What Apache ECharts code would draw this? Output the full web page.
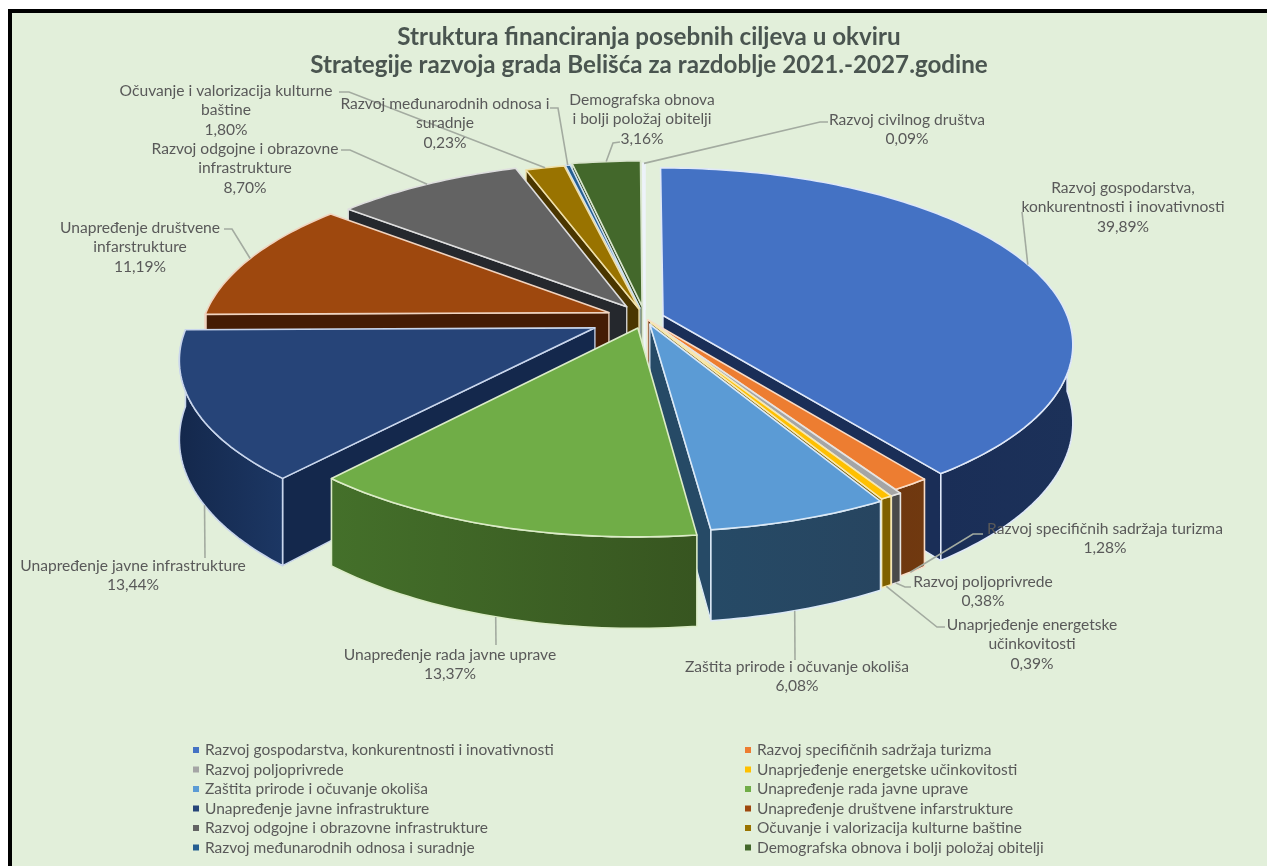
<!DOCTYPE html>
<html><head><meta charset="utf-8">
<style>html,body{margin:0;padding:0;background:#fff}#chart{width:1267px;height:866px}</style>
<script src="https://cdn.jsdelivr.net/npm/echarts@6/dist/echarts.min.js"></script>
</head><body><div id="chart"></div>
<script>
// ---- data
const categories = [
  'Razvoj gospodarstva, konkurentnosti i inovativnosti','Razvoj specifičnih sadržaja turizma','Razvoj poljoprivrede',
  'Unaprjeđenje energetske učinkovitosti','Zaštita prirode i očuvanje okoliša','Unapređenje rada javne uprave',
  'Unapređenje javne infrastrukture','Unapređenje društvene infarstrukture','Razvoj odgojne i obrazovne infrastrukture',
  'Očuvanje i valorizacija kulturne baštine','Razvoj međunarodnih odnosa i suradnje','Demografska obnova i bolji položaj obitelji',
  'Razvoj civilnog društva'];
const values = [39.89,1.28,0.38,0.39,6.08,13.37,13.44,11.19,8.70,1.80,0.23,3.16,0.09];
const labelLines = [
  ['Razvoj gospodarstva,','konkurentnosti i inovativnosti','39,89%'],
  ['Razvoj specifičnih sadržaja turizma','1,28%'],
  ['Razvoj poljoprivrede','0,38%'],
  ['Unaprjeđenje energetske','učinkovitosti','0,39%'],
  ['Zaštita prirode i očuvanje okoliša','6,08%'],
  ['Unapređenje rada javne uprave','13,37%'],
  ['Unapređenje javne infrastrukture','13,44%'],
  ['Unapređenje društvene','infarstrukture','11,19%'],
  ['Razvoj odgojne i obrazovne','infrastrukture','8,70%'],
  ['Očuvanje i valorizacija kulturne','baštine','1,80%'],
  ['Razvoj međunarodnih odnosa i','suradnje','0,23%'],
  ['Demografska obnova','i bolji položaj obitelji','3,16%'],
  ['Razvoj civilnog društva','0,09%']];
const titleText = 'Struktura financiranja posebnih ciljeva u okviru\nStrategije razvoja grada Belišća za razdoblje 2021.-2027.godine';
// ---- style and layout
const topColors  = ['#4472c4','#ed7d31','#a5a5a5','#ffc000','#5b9bd5','#70ad47','#264478','#9e480e','#636363','#997300','#255e91','#43682b','#e4eef8'];
const wallColors = ['#1a2e57','#6f3710','#4a4a4a','#7f6000','#264a66','#44702a','#14284c','#451c04','#25282d','#4a3600','#15375a','#283f19','#c8d4e4'];
const wallEnd    = ['#1c3159','#70390f','#4a4a4a','#7f6000','#274560','#375520','#1c3764','#451c04','#25282d','#4a3600','#15375a','#283f19','#c8d4e4'];
const edgeColors = ['#dfe8f8','#f9dcc6','#e4e4e4','#f8e8b0','#dbe9f6','#dcecc8','#c9d6ec','#f0d4c0','#dedede','#f0e0a8','#cfe0f0','#d8e4cc','#eef3fa'];
const explode = [0.047,0.012,0.03,0.03,0.038,0.06,0.135,0.095,0.08,0.055,0.06,0.07,0.05];
const leaderAt = [0.5,0.5,0.5,0.5,0.53,0.5,0.40,0.5,0.5,0.5,0.5,0.5,0.5];
// label centre x, first-line centre y, then the elbow points of the leader line
const labelLayout = [
  [1123,188,[[1022,212]]],
  [1105,529,[[973,534],[983,534]]],
  [983,582,[[905,587],[911,587]]],
  [1032,625,[[937,627],[945,627]]],
  [797,667,[[795,660]]],
  [450,655,[[496,645]]],
  [133,566,[[205,558]]],
  [140,228,[[232,229],[224,229]]],
  [245,149,[[350,150],[341,150]]],
  [226,91,[[349,92],[339,92]]],
  [445,104,[[558,108],[550,108]]],
  [642,100,[[613,143],[620,142]]],
  [907,120,[[820,122],[828,122]]]
];
const center = [645,318], R = 405, RY = 172, persp = 0.16, depth = 76;
const labelFont = 'Lato, "Open Sans", sans-serif', textColor = '#595959';

const total = values.reduce((a,b)=>a+b,0);
const starts = []; let acc = 0;
values.forEach(v=>{starts.push(acc/total*Math.PI*2); acc+=v;});
const ends = values.map((v,i)=>starts[i]+v/total*Math.PI*2);
const mids = values.map((v,i)=>(starts[i]+ends[i])/2);

function proj(i,a,r,d){
  const X = explode[i]*Math.sin(mids[i]) + r*Math.sin(a);
  const Y = -explode[i]*Math.cos(mids[i]) - r*Math.cos(a);
  const s = 1/(1-persp*Y);
  return [center[0]+R*X*s, center[1]+RY*Y*s+depth*d*s];
}
function arc(i,a0,a1,d,rev){
  const n = Math.max(2,Math.ceil((a1-a0)/0.02)), p=[];
  for(let k=0;k<=n;k++){p.push(proj(i,a0+(a1-a0)*k/n,1,d));}
  return rev?p.reverse():p;
}
function sliceItem(i){
  const eStyle = {stroke:edgeColors[i],lineWidth:1.6,lineJoin:'round'};
  const ap0=proj(i,0,0,0), ap1=proj(i,0,0,1);
  const face = a=>({type:'polygon',shape:{points:[ap0,proj(i,a,1,0),proj(i,a,1,1),ap1]},
    style:Object.assign({fill:wallColors[i]},eStyle,{lineWidth:1.3})});
  const kids = [];
  if(Math.sin(starts[i])<0) kids.push(face(starts[i]));
  if(Math.sin(ends[i])>0) kids.push(face(ends[i]));
  const a0=Math.max(starts[i],Math.PI/2), a1=Math.min(ends[i],Math.PI*1.5);
  if(a1>a0){
    kids.push({type:'polygon',shape:{points:arc(i,a0,a1,0).concat(arc(i,a0,a1,1,true))},style:Object.assign({
       fill:new echarts.graphic.LinearGradient(0,0,1,0,[{offset:0,color:wallColors[i]},{offset:1,color:wallEnd[i]}])
     },eStyle)});
  }
  kids.push({type:'polygon',shape:{points:[ap0].concat(arc(i,starts[i],ends[i],0))},style:Object.assign({fill:topColors[i]},eStyle)});
  return {type:'group',children:kids};
}
function labelItem(i){
  const a = starts[i]+(ends[i]-starts[i])*leaderAt[i];
  const d = Math.cos(a)<0 ? 1 : 0;
  const start = proj(i,a,1,d);
  const L = labelLayout[i];
  const kids = [{type:'polyline',shape:{points:[start].concat(L[2])},style:{stroke:'#a3aba0',lineWidth:1.6,fill:null}}];
  labelLines[i].forEach((t,k)=>kids.push({type:'text',style:{text:t,x:L[0],y:L[1]+k*19.3,align:'center',verticalAlign:'middle',
     font:'15.6px '+labelFont,fill:textColor}}));
  return {type:'group',children:kids};
}
// back slices are painted first
const order = values.map((v,i)=>i).sort((a,b)=>(-Math.cos(mids[a]))-(-Math.cos(mids[b])));
const series = categories.map((name,i)=>({
  type:'custom',name,coordinateSystem:'none',z:10+order.indexOf(i),silent:true,animation:false,
  itemStyle:{color:topColors[i]},data:[values[i]],renderItem:()=>sliceItem(i)
}));
series.push({type:'custom',name:'labels',coordinateSystem:'none',z:60,silent:true,animation:false,
  data:labelLines.map((l,i)=>i),renderItem:(p)=>labelItem(p.dataIndex)});

const legendBase = {orient:'vertical',top:742,itemWidth:6,itemHeight:6,itemGap:3.5,icon:'rect',selectedMode:false,
  align:'left',padding:0,textStyle:{fontFamily:labelFont,fontSize:15.5,color:textColor,padding:[0,0,0,1],lineHeight:15}};
const chart = echarts.init(document.getElementById('chart'),null,{renderer:'canvas'});
chart.setOption({
  backgroundColor:'#e2efda',animation:false,
  title:{text:titleText,left:644,textAlign:'center',top:18,textStyle:{fontFamily:labelFont,fontSize:24.2,fontWeight:'bold',color:'#4a5550',lineHeight:28}},
  legend:[
    Object.assign({},legendBase,{left:193,data:categories.filter((c,i)=>i<12&&i%2===0)}),
    Object.assign({},legendBase,{left:745,data:categories.filter((c,i)=>i<12&&i%2===1)})
  ],
  graphic:[
    {type:'rect',silent:true,shape:{x:0,y:0,width:1267,height:9},style:{fill:'#fff'}},
    {type:'rect',silent:true,shape:{x:0,y:0,width:8,height:866},style:{fill:'#fff'}},
    {type:'rect',silent:true,shape:{x:8,y:9,width:1259,height:4},style:{fill:'#000'}},
    {type:'rect',silent:true,shape:{x:8,y:9,width:4,height:857},style:{fill:'#000'}}
  ],
  series
});
</script></body></html>
